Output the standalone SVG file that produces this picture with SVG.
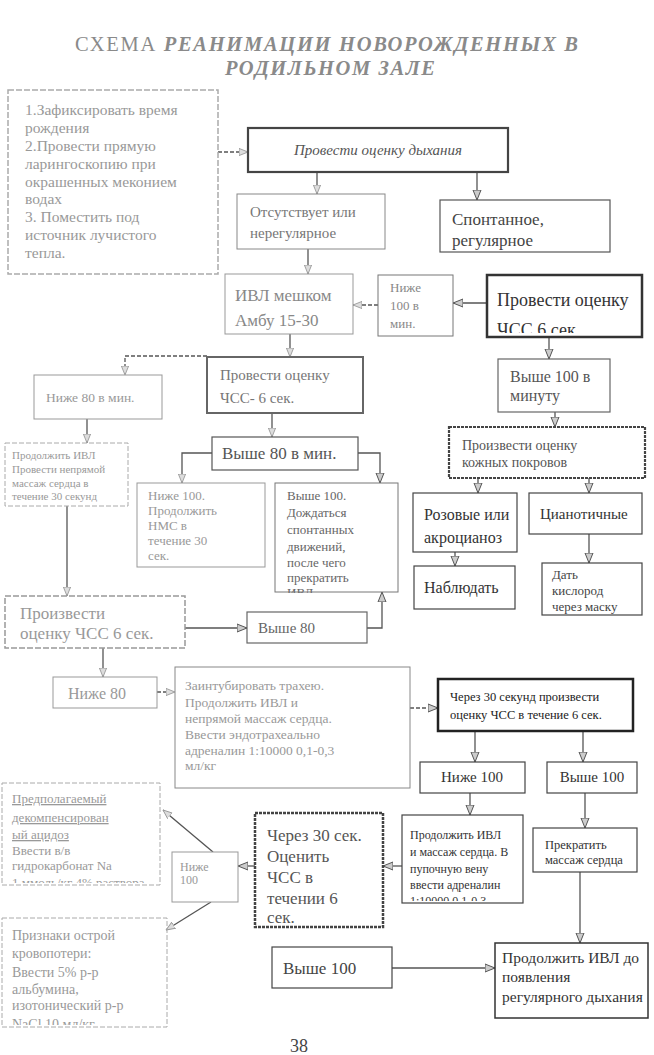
<svg xmlns="http://www.w3.org/2000/svg" width="654" height="1055" viewBox="0 0 654 1055">
<style>
text{font-family:"Liberation Serif","Times New Roman",serif;}
.box{fill:#fff;}
.c line,.c polyline{fill:none;stroke:#555;stroke-width:1.3;}
.faint{stroke:#999;}
.dash{stroke-dasharray:4 2;}
</style>
<defs>
<marker id="ah" viewBox="0 0 10 10" refX="10" refY="5" markerWidth="10" markerHeight="10" markerUnits="userSpaceOnUse" orient="auto">
<path d="M0,1 L10,5 L0,9 Z" fill="#ccc" stroke="#555" stroke-width="1"/>
</marker>
<marker id="ahf" viewBox="0 0 10 10" refX="10" refY="5" markerWidth="9" markerHeight="9" markerUnits="userSpaceOnUse" orient="auto">
<path d="M0,1 L10,5 L0,9 Z" fill="#ddd" stroke="#999" stroke-width="1"/>
</marker>
<clipPath id="cl1"><rect x="487" y="275" width="155" height="58"/></clipPath>
<clipPath id="cl2"><rect x="275" y="483" width="123" height="110"/></clipPath>
<clipPath id="cl3"><rect x="402" y="815" width="121" height="86"/></clipPath>
<clipPath id="cl4"><rect x="2" y="783" width="158" height="100"/></clipPath>
<clipPath id="cl5"><rect x="2" y="918" width="165" height="107"/></clipPath>
</defs>
<rect width="654" height="1055" fill="#fff"/>

<g id="title" fill="#8a8a8a">
<text x="75" y="51" font-size="20.5" textLength="503" lengthAdjust="spacing"><tspan>СХЕМА </tspan><tspan font-style="italic" font-weight="bold">РЕАНИМАЦИИ НОВОРОЖДЕННЫХ В</tspan></text>
<text x="225" y="75" font-size="20.5" textLength="210" lengthAdjust="spacing" font-style="italic" font-weight="bold">РОДИЛЬНОМ ЗАЛЕ</text>
</g>

<g class="c" id="connectors">
<line x1="218" y1="152" x2="248" y2="152" class="faint dash" marker-end="url(#ahf)"/>
<line x1="317" y1="172" x2="317" y2="194" class="faint" marker-end="url(#ahf)"/>
<line x1="477" y1="172" x2="477" y2="200" marker-end="url(#ah)"/>
<line x1="308" y1="249" x2="308" y2="274" class="faint" marker-end="url(#ahf)"/>
<line x1="487" y1="303" x2="453" y2="303" marker-end="url(#ah)"/>
<line x1="378" y1="305" x2="353" y2="305" class="faint dash" marker-end="url(#ahf)"/>
<line x1="290" y1="334" x2="290" y2="357" class="faint" marker-end="url(#ahf)"/>
<polyline points="207,356 125,356 125,375" class="faint dash" marker-end="url(#ahf)"/>
<line x1="549" y1="338" x2="549" y2="359" marker-end="url(#ah)"/>
<line x1="87" y1="419" x2="87" y2="443" class="faint" marker-end="url(#ahf)"/>
<line x1="272" y1="413" x2="272" y2="437" class="faint" marker-end="url(#ahf)"/>
<polyline points="212,453 182,453 182,483" class="faint" marker-end="url(#ahf)"/>
<polyline points="358,453 380,453 380,483" marker-end="url(#ah)"/>
<line x1="555" y1="412" x2="555" y2="427" marker-end="url(#ah)"/>
<line x1="478" y1="478" x2="478" y2="493" marker-end="url(#ah)"/>
<line x1="589" y1="478" x2="589" y2="493" marker-end="url(#ah)"/>
<line x1="455" y1="552" x2="455" y2="566" marker-end="url(#ah)"/>
<line x1="589" y1="534" x2="589" y2="563" marker-end="url(#ah)"/>
<line x1="67" y1="506" x2="67" y2="596" class="faint" marker-end="url(#ahf)"/>
<line x1="185" y1="628" x2="247" y2="628" marker-end="url(#ah)"/>
<polyline points="367,628 382,628 382,592" marker-end="url(#ah)"/>
<line x1="103" y1="648" x2="103" y2="677" class="faint" marker-end="url(#ahf)"/>
<line x1="157" y1="692" x2="175" y2="692" class="faint dash" marker-end="url(#ahf)"/>
<line x1="410" y1="708" x2="438" y2="708" class="dash" marker-end="url(#ah)"/>
<line x1="475" y1="731" x2="475" y2="762" marker-end="url(#ah)"/>
<line x1="583" y1="731" x2="583" y2="762" marker-end="url(#ah)"/>
<line x1="470" y1="793" x2="470" y2="815" marker-end="url(#ah)"/>
<line x1="585" y1="793" x2="585" y2="828" marker-end="url(#ah)"/>
<line x1="580" y1="872" x2="580" y2="943" marker-end="url(#ah)"/>
<line x1="392" y1="968" x2="495" y2="968" marker-end="url(#ah)"/>
<line x1="402" y1="866" x2="383" y2="866" marker-end="url(#ah)"/>
<line x1="255" y1="866" x2="238" y2="866" marker-end="url(#ah)"/>
<line x1="213" y1="852" x2="163" y2="810" class="faint" marker-end="url(#ahf)"/>
<line x1="211" y1="902" x2="166" y2="930" class="faint" marker-end="url(#ahf)"/>
</g>

<g id="n-start" fill="#999">
<rect class="box" x="8" y="90" width="210" height="184" stroke="#aaa" stroke-width="1.5" stroke-dasharray="6 2"/>
<text font-size="15.5"><tspan x="25" y="115">1.Зафиксировать время</tspan><tspan x="25" y="133">рождения</tspan><tspan x="25" y="151">2.Провести прямую</tspan><tspan x="25" y="169">ларингоскопию при</tspan><tspan x="25" y="187">окрашенных меконием</tspan><tspan x="25" y="204">водах</tspan><tspan x="25" y="222">3. Поместить под</tspan><tspan x="25" y="240">источник лучистого</tspan><tspan x="25" y="258">тепла.</tspan></text>
</g>

<g id="n-breath">
<rect class="box" x="248" y="128" width="260" height="44" stroke="#444" stroke-width="2.2"/>
<text x="378" y="155" font-size="15" font-style="italic" text-anchor="middle" fill="#555">Провести оценку дыхания</text>
</g>

<g id="n-absent">
<rect class="box" x="237" y="194" width="148" height="55" stroke="#888" stroke-width="1"/>
<text font-size="15" fill="#777"><tspan x="250" y="217">Отсутствует или</tspan><tspan x="250" y="238">нерегулярное</tspan></text>
</g>

<g id="n-spont">
<rect class="box" x="440" y="200" width="170" height="52" stroke="#555" stroke-width="1.2"/>
<text font-size="17" fill="#444"><tspan x="452" y="225">Спонтанное,</tspan><tspan x="452" y="246">регулярное</tspan></text>
</g>

<g id="n-ivl">
<rect class="box" x="225" y="274" width="128" height="60" stroke="#999" stroke-width="1"/>
<text font-size="17" fill="#888"><tspan x="235" y="301">ИВЛ мешком</tspan><tspan x="235" y="326">Амбу 15-30</tspan></text>
</g>

<g id="n-below100a">
<rect class="box" x="378" y="275" width="75" height="61" stroke="#777" stroke-width="1"/>
<text font-size="13" fill="#888"><tspan x="390" y="292">Ниже</tspan><tspan x="390" y="310">100 в</tspan><tspan x="390" y="328">мин.</tspan></text>
</g>

<g id="n-hr1">
<text font-size="18" fill="#333" clip-path="url(#cl1)"><tspan x="497" y="306">Провести оценку</tspan><tspan x="497" y="336">ЧСС 6 сек</tspan></text>
<rect x="487" y="275" width="155" height="62" fill="none" stroke="#333" stroke-width="2.5"/>
</g>

<g id="n-hr2">
<rect class="box" x="207" y="357" width="156" height="56" stroke="#666" stroke-width="2"/>
<text font-size="15" fill="#777"><tspan x="220" y="380">Провести оценку</tspan><tspan x="220" y="403">ЧСС- 6 сек.</tspan></text>
</g>

<g id="n-below80a">
<rect class="box" x="34" y="375" width="128" height="44" stroke="#999" stroke-width="1"/>
<text x="46" y="402" font-size="13.5" fill="#999">Ниже 80 в мин.</text>
</g>

<g id="n-contivl">
<rect class="box" x="5" y="443" width="123" height="63" stroke="#aaa" stroke-width="1" stroke-dasharray="5 2"/>
<text font-size="11" fill="#999"><tspan x="12" y="459">Продолжить ИВЛ</tspan><tspan x="12" y="473">Провести непрямой</tspan><tspan x="12" y="487">массаж сердца в</tspan><tspan x="12" y="500">течение 30 секунд</tspan></text>
</g>

<g id="n-above80a">
<rect class="box" x="212" y="437" width="146" height="33" stroke="#555" stroke-width="1.2"/>
<text x="222" y="459" font-size="17" fill="#555">Выше 80 в мин.</text>
</g>

<g id="n-below100b">
<rect class="box" x="137" y="483" width="128" height="84" stroke="#999" stroke-width="1"/>
<text font-size="13" fill="#999"><tspan x="148" y="500">Ниже 100.</tspan><tspan x="148" y="515">Продолжить</tspan><tspan x="148" y="530">НМС в</tspan><tspan x="148" y="545">течение 30</tspan><tspan x="148" y="560">сек.</tspan></text>
</g>

<g id="n-above100b">
<text font-size="13" fill="#666" clip-path="url(#cl2)"><tspan x="287" y="500">Выше 100.</tspan><tspan x="287" y="517">Дождаться</tspan><tspan x="287" y="534">спонтанных</tspan><tspan x="287" y="551">движений,</tspan><tspan x="287" y="567">после чего</tspan><tspan x="287" y="582">прекратить</tspan><tspan x="287" y="597">ИВЛ</tspan></text>
<rect x="275" y="483" width="123" height="109" fill="none" stroke="#777" stroke-width="1"/>
</g>

<g id="n-above100a">
<rect class="box" x="498" y="359" width="112" height="53" stroke="#666" stroke-width="1.2"/>
<text font-size="16" fill="#555"><tspan x="510" y="382">Выше 100 в</tspan><tspan x="510" y="401">минуту</tspan></text>
</g>

<g id="n-skin">
<rect class="box" x="449" y="427" width="196" height="51" stroke="#444" stroke-width="2.2" stroke-dasharray="3 1"/>
<text font-size="14" fill="#555"><tspan x="462" y="450">Произвести оценку</tspan><tspan x="462" y="467">кожных покровов</tspan></text>
</g>

<g id="n-pink">
<rect class="box" x="413" y="493" width="104" height="59" stroke="#444" stroke-width="1.2"/>
<text font-size="16" fill="#333"><tspan x="424" y="520">Розовые или</tspan><tspan x="424" y="543">акроцианоз</tspan></text>
</g>

<g id="n-cyan">
<rect class="box" x="529" y="493" width="113" height="41" stroke="#444" stroke-width="1.2"/>
<text x="540" y="519" font-size="15" fill="#333">Цианотичные</text>
</g>

<g id="n-observe">
<rect class="box" x="414" y="566" width="101" height="43" stroke="#444" stroke-width="1.2"/>
<text x="424" y="593" font-size="16" fill="#333">Наблюдать</text>
</g>

<g id="n-oxygen">
<rect class="box" x="542" y="563" width="100" height="52" stroke="#444" stroke-width="1.2"/>
<text font-size="13" fill="#444"><tspan x="552" y="579">Дать</tspan><tspan x="552" y="595">кислород</tspan><tspan x="552" y="611">через маску</tspan></text>
</g>

<g id="n-hr3">
<rect class="box" x="5" y="596" width="180" height="52" stroke="#999" stroke-width="1.5" stroke-dasharray="6 2"/>
<text font-size="17" fill="#999"><tspan x="20" y="619">Произвести</tspan><tspan x="20" y="639">оценку ЧСС 6 сек.</tspan></text>
</g>

<g id="n-above80b">
<rect class="box" x="247" y="612" width="120" height="31" stroke="#666" stroke-width="1.2"/>
<text x="258" y="633" font-size="15" fill="#666">Выше 80</text>
</g>

<g id="n-below80b">
<rect class="box" x="53" y="677" width="104" height="31" stroke="#999" stroke-width="1"/>
<text x="68" y="699" font-size="16" fill="#999">Ниже 80</text>
</g>

<g id="n-intubate">
<rect class="box" x="175" y="667" width="235" height="121" stroke="#888" stroke-width="1"/>
<text font-size="13.5" fill="#999"><tspan x="185" y="690">Заинтубировать трахею.</tspan><tspan x="185" y="707">Продолжить ИВЛ и</tspan><tspan x="185" y="723">непрямой массаж сердца.</tspan><tspan x="185" y="739">Ввести эндотрахеально</tspan><tspan x="185" y="755">адреналин 1:10000 0,1-0,3</tspan><tspan x="185" y="770">мл/кг</tspan></text>
</g>

<g id="n-hr30">
<rect class="box" x="438" y="679" width="195" height="52" stroke="#222" stroke-width="2.5"/>
<text font-size="12.5" fill="#222"><tspan x="450" y="701">Через 30 секунд произвести</tspan><tspan x="450" y="719">оценку ЧСС в течение 6 сек.</tspan></text>
</g>

<g id="n-below100c">
<rect class="box" x="420" y="762" width="105" height="31" stroke="#444" stroke-width="1.2"/>
<text x="472" y="782" font-size="15" fill="#333" text-anchor="middle">Ниже 100</text>
</g>

<g id="n-above100c">
<rect class="box" x="547" y="762" width="90" height="31" stroke="#444" stroke-width="1.2"/>
<text x="592" y="782" font-size="15" fill="#333" text-anchor="middle">Выше 100</text>
</g>

<g id="n-contmassage">
<text font-size="12" fill="#333" clip-path="url(#cl3)"><tspan x="410" y="839">Продолжить ИВЛ</tspan><tspan x="410" y="856">и массаж сердца. В</tspan><tspan x="410" y="873">пупочную вену</tspan><tspan x="410" y="889">ввести адреналин</tspan><tspan x="410" y="905">1:10000 0,1-0,3</tspan></text>
<rect x="402" y="815" width="121" height="88" fill="none" stroke="#444" stroke-width="1.2"/>
</g>

<g id="n-stopmassage">
<rect class="box" x="533" y="828" width="104" height="44" stroke="#444" stroke-width="1.2"/>
<text font-size="12.5" fill="#333"><tspan x="545" y="849">Прекратить</tspan><tspan x="545" y="864">массаж сердца</tspan></text>
</g>

<g id="n-contivl2">
<rect class="box" x="495" y="943" width="153" height="75" stroke="#333" stroke-width="1.5"/>
<text font-size="15.5" fill="#333"><tspan x="502" y="963">Продолжить ИВЛ до</tspan><tspan x="502" y="982">появления</tspan><tspan x="502" y="1002">регулярного дыхания</tspan></text>
</g>

<g id="n-above100d">
<rect class="box" x="272" y="947" width="120" height="41" stroke="#444" stroke-width="1.2"/>
<text x="283" y="974" font-size="17" fill="#444">Выше 100</text>
</g>

<g id="n-hr30b">
<rect class="box" x="255" y="813" width="128" height="114" stroke="#444" stroke-width="2.5" stroke-dasharray="3 1"/>
<text font-size="17" fill="#555"><tspan x="267" y="841">Через 30 сек.</tspan><tspan x="267" y="862">Оценить</tspan><tspan x="267" y="883">ЧСС в</tspan><tspan x="267" y="904">течении 6</tspan><tspan x="267" y="923">сек.</tspan></text>
</g>

<g id="n-below100d">
<rect class="box" x="172" y="852" width="66" height="50" stroke="#999" stroke-width="1"/>
<text font-size="12" fill="#999"><tspan x="180" y="871">Ниже</tspan><tspan x="180" y="884">100</tspan></text>
</g>

<g id="n-acidosis">
<text font-size="13" fill="#999" clip-path="url(#cl4)"><tspan x="12" y="803" text-decoration="underline">Предполагаемый</tspan><tspan x="12" y="822" text-decoration="underline">декомпенсирован</tspan><tspan x="12" y="839" text-decoration="underline">ый ацидоз</tspan><tspan x="12" y="855">Ввести в/в</tspan><tspan x="12" y="870">гидрокарбонат Na</tspan><tspan x="12" y="887">1 ммоль/кг 4% раствора</tspan></text>
<rect x="2" y="783" width="158" height="102" fill="none" stroke="#aaa" stroke-width="1" stroke-dasharray="5 2"/>
</g>

<g id="n-bloodloss">
<text font-size="14" fill="#999" clip-path="url(#cl5)"><tspan x="12" y="940">Признаки острой</tspan><tspan x="12" y="958">кровопотери:</tspan><tspan x="12" y="977">Ввести 5% р-р</tspan><tspan x="12" y="994">альбумина,</tspan><tspan x="12" y="1010">изотонический р-р</tspan><tspan x="12" y="1029">NaCl 10 мл/кг</tspan></text>
<rect x="2" y="918" width="165" height="109" fill="none" stroke="#aaa" stroke-width="1" stroke-dasharray="5 2"/>
</g>

<text x="290" y="1052" font-size="18" fill="#444">38</text>
</svg>
